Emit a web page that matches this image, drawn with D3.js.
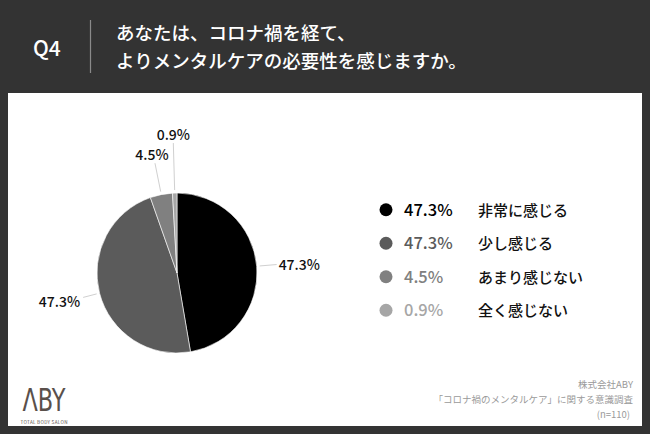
<!DOCTYPE html>
<html><head><meta charset="utf-8">
<script src="https://cdn.jsdelivr.net/npm/d3@7"></script>
<style>
html,body{margin:0;padding:0;background:#333333;}
svg{display:block;}
text{font-family:"Noto Sans CJK JP","Noto Sans",sans-serif;}
</style></head>
<body>
<svg id="c" width="650" height="434"></svg>
<script>
const qLabel = "Q4";
const titleLines = ["あなたは、コロナ禍を経て、", "よりメンタルケアの必要性を感じますか。"];
const categories = ["非常に感じる", "少し感じる", "あまり感じない", "全く感じない"];
const values = [47.3, 47.3, 4.5, 0.9];
const valueLabels = ["47.3%", "47.3%", "4.5%", "0.9%"];
const colors = ["#000000", "#5b5b5b", "#808080", "#a6a6a6"];
const footerLines = ["株式会社ABY", "「コロナ禍のメンタルケア」に関する意識調査", "(n=110)"];

const svg = d3.select("#c");
svg.append("rect").attr("width",650).attr("height",434).attr("fill","#333333");
svg.append("rect").attr("x",8).attr("y",93).attr("width",634).attr("height",333).attr("fill","#ffffff");

// header
svg.append("text").attr("x",33).attr("y",56).attr("fill","#fff").attr("font-size",21).attr("font-weight",500).text(qLabel);
svg.append("line").attr("x1",90.5).attr("x2",90.5).attr("y1",20).attr("y2",73).attr("stroke","#8a8a8a").attr("stroke-width",1.2);
svg.selectAll("text.title").data(titleLines).join("text").attr("class","title")
  .attr("x",116).attr("y",(d,i)=>40+i*28).attr("fill","#fff").attr("font-size",18.5).attr("font-weight",500).text(d=>d);

// pie
const cx=177, cy=273, r=80;
const pie = d3.pie().sort(null).value(d=>d)(values);
const arc = d3.arc().innerRadius(0).outerRadius(r);
const g = svg.append("g").attr("transform",`translate(${cx},${cy})`);
g.selectAll("path").data(pie).join("path").attr("d",arc).attr("fill",(d,i)=>colors[i])
  .attr("stroke","#fff").attr("stroke-width",0.6);

const labelRadius=[100,97,112,130];
const pt=(a,rr)=>[Math.sin(a)*rr, -Math.cos(a)*rr];
pie.forEach((d,i)=>{
  const a=(d.startAngle+d.endAngle)/2;
  const p0=pt(a,r+3), p1=pt(a,labelRadius[i]);
  g.append("line").attr("x1",p0[0]).attr("y1",p0[1]).attr("x2",p1[0]).attr("y2",p1[1])
    .attr("stroke","#d0d0d0").attr("stroke-width",1);
  const t=g.append("text").attr("font-size",14).attr("font-weight",500).attr("fill","#111").text(valueLabels[i]);
  if(i===0){t.attr("x",p1[0]+2).attr("y",p1[1]+5).attr("text-anchor","start");}
  else if(i===1){t.attr("x",p1[0]-3).attr("y",p1[1]+10).attr("text-anchor","end");}
  else {t.attr("x",p1[0]+(i===2?-3:0)).attr("y",p1[1]-3).attr("text-anchor","middle");}
});

// legend
const ly = d3.scaleBand().domain(categories).range([193,327]);
const lg = svg.append("g");
categories.forEach((c,i)=>{
  const y = ly(c)+ly.bandwidth()/2;
  lg.append("circle").attr("cx",386).attr("cy",y).attr("r",6.5).attr("fill",colors[i]);
  lg.append("text").attr("x",404).attr("y",y+6).attr("font-size",16.5).attr("font-weight",500).attr("fill",colors[i]).text(valueLabels[i]);
  lg.append("text").attr("x",478).attr("y",y+6).attr("font-size",15).attr("font-weight",500).attr("fill","#111").text(c);
});

// logo
svg.append("text").attr("x",44).attr("y",411).attr("text-anchor","middle").attr("font-size",32).attr("font-weight",300)
  .attr("fill","#5a504b").attr("textLength",43).attr("lengthAdjust","spacingAndGlyphs")
  .style("font-family","'DejaVu Sans Condensed','Liberation Sans Narrow',sans-serif").text("ΛBY");
svg.append("text").attr("x",44).attr("y",423.5).attr("text-anchor","middle").attr("font-size",4.6)
  .attr("fill","#5a504b").attr("textLength",47).text("TOTAL BODY SALON");

// footer
svg.selectAll("text.foot").data(footerLines).join("text").attr("class","foot")
  .attr("x",(d,i)=>i===2?630:633).attr("y",(d,i)=>388+i*15).attr("text-anchor","end")
  .attr("font-size",9.5).attr("fill","#9a9a9a").text(d=>d);
</script>
</body></html>
